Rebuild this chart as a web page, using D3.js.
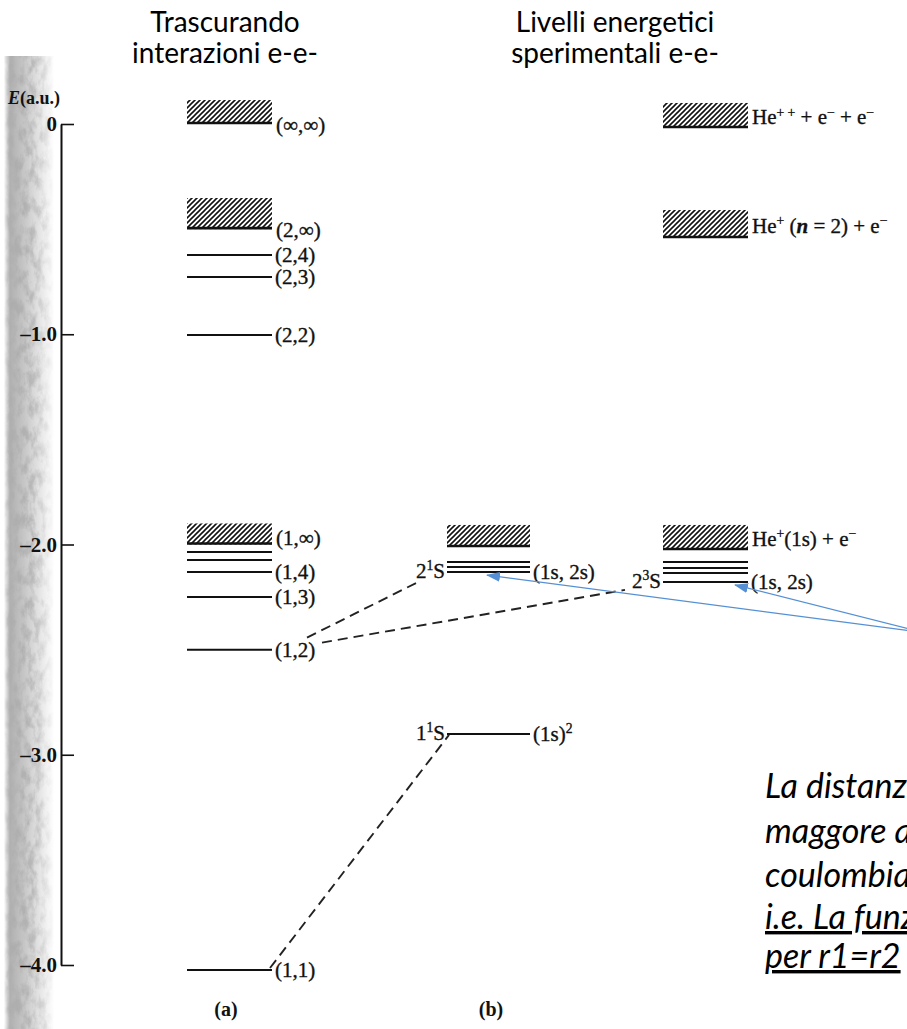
<!DOCTYPE html>
<html>
<head>
<meta charset="utf-8">
<script src="https://cdn.jsdelivr.net/npm/d3@7"></script>
<style>
  html, body { margin: 0; padding: 0; background: #fff; }
  svg { display: block; }
  .serif { font-family: "Liberation Serif", "DejaVu Serif", serif; fill: #111; }
  .lab { stroke: #111; stroke-width: 0.35; }
  .title { font-family: Lato, "Open Sans", sans-serif; fill: #000; }
</style>
</head>
<body>
<svg id="plot1" width="907" height="1029"></svg>
<script>
// energies (a.u.)
var axisTicks = [0, -1, -2, -3, -4];

// column (a): independent electrons
var bandsA = [
  {lo: 0, hi: 0.114, label: "(∞,∞)"},
  {lo: -0.5, hi: -0.352, label: "(2,∞)"},
  {lo: -2.0, hi: -1.9, label: "(1,∞)"}
];
var levelsA = [
  {E: -0.623, label: "(2,4)"},
  {E: -0.728, label: "(2,3)"},
  {E: -1.004, label: "(2,2)"},
  {E: -2.036, label: ""},
  {E: -2.074, label: ""},
  {E: -2.131, label: "(1,4)"},
  {E: -2.25, label: "(1,3)"},
  {E: -2.5, label: "(1,2)"},
  {E: -4.024, label: "(1,1)"}
];

// column (b): singlets
var bandsB = [{lo: -2.012, hi: -1.907, label: ""}];
var levelsB = [
  {E: -2.083, label: "", left: ""},
  {E: -2.107, label: "", left: ""},
  {E: -2.131, label: "(1s, 2s)", left: "2^{1}S"},
  {E: -2.901, label: "(1s)^{2}", left: "1^{1}S"}
];

// column (c): triplets
var bandsC = [
  {lo: -0.019, hi: 0.1, label: "He^{+ +} + e^{−}  + e^{−}"},
  {lo: -0.542, hi: -0.409, label: "He^{+} (*n* = 2) + e^{−}"},
  {lo: -2.026, hi: -1.907, label: "He^{+}(1s) + e^{−}"}
];
var levelsC = [
  {E: -2.083, label: "", left: ""},
  {E: -2.112, label: "", left: ""},
  {E: -2.136, label: "", left: ""},
  {E: -2.178, label: "(1s, 2s)", left: "2^{3}S"}
];

// dashed correlations between columns
var transitions = [
  {from: "A", Efrom: -2.5, to: "B", Eto: -2.131},
  {from: "A", Efrom: -2.5, to: "C", Eto: -2.178},
  {from: "A", Efrom: -4.024, to: "B", Eto: -2.901}
];

// blue annotation arrows pointing at the (1s,2s) levels
var arrows = [
  {col: "B", E: -2.131},
  {col: "C", E: -2.178}
];

var titles = [
  {lines: ["Trascurando", "interazioni  e-e-"], col: "A"},
  {lines: ["Livelli  energetici", "sperimentali  e-e-"], col: "BC"}
];
var noteLines = ["La distanza tra i livelli è", "maggore a causa della", "coulombiana fra gli", "i.e. La funzione d'onda", "per r1=r2"];
var panelLabels = ["(a)", "(b)"];

var svg = d3.select("#plot1");

var y = d3.scaleLinear().domain([0, -4]).range([124, 965]);

// horizontal extents of the three columns of levels
var cols = {
  A: {x0: 187, x1: 272},
  B: {x0: 447, x1: 530},
  C: {x0: 663, x1: 748}
};

var defs = svg.append("defs");

// hatch for the continua
var pat = defs.append("pattern")
    .attr("id", "hatch")
    .attr("patternUnits", "userSpaceOnUse")
    .attr("width", 5).attr("height", 5);
pat.append("path")
    .attr("d", "M-1,1 l2,-2 M0,5 l5,-5 M4,6 l2,-2")
    .attr("stroke", "#111").attr("stroke-width", 1.6);

// grey scanned strip on the left edge
var grad = defs.append("linearGradient").attr("id", "strip").attr("x1", 0).attr("x2", 1);
grad.append("stop").attr("offset", "0%").attr("stop-color", "#fff");
grad.append("stop").attr("offset", "12%").attr("stop-color", "#b0b0b0");
grad.append("stop").attr("offset", "40%").attr("stop-color", "#c6c6c6");
grad.append("stop").attr("offset", "75%").attr("stop-color", "#e8e8e8");
grad.append("stop").attr("offset", "100%").attr("stop-color", "#fff");

var mgrad = defs.append("linearGradient").attr("id", "stripMask").attr("x1", 0).attr("x2", 1);
mgrad.append("stop").attr("offset", "0%").attr("stop-color", "#000");
mgrad.append("stop").attr("offset", "15%").attr("stop-color", "#fff");
mgrad.append("stop").attr("offset", "55%").attr("stop-color", "#bbb");
mgrad.append("stop").attr("offset", "100%").attr("stop-color", "#000");
defs.append("mask").attr("id", "fade")
  .append("rect").attr("x", 4).attr("y", 56).attr("width", 50).attr("height", 973).attr("fill", "url(#stripMask)");

var grain = defs.append("filter").attr("id", "grain")
    .attr("filterUnits", "userSpaceOnUse")
    .attr("x", 4).attr("y", 56).attr("width", 50).attr("height", 973);
grain.append("feTurbulence").attr("type", "fractalNoise").attr("baseFrequency", "0.14 0.07").attr("numOctaves", 4).attr("seed", 11).attr("result", "noise");
grain.append("feColorMatrix").attr("in", "noise").attr("type", "matrix")
    .attr("values", "0 0 0 0 0.42  0 0 0 0 0.42  0 0 0 0 0.42  2.8 0 0 0 -1.1");

var marker = defs.append("marker")
    .attr("id", "arrowHead")
    .attr("markerUnits", "userSpaceOnUse")
    .attr("markerWidth", 14).attr("markerHeight", 10)
    .attr("refX", 13).attr("refY", 5)
    .attr("orient", "auto");
marker.append("path").attr("d", "M0,0 L14,5 L0,10 z").attr("fill", "#5590d4");

svg.append("rect").attr("x", 4).attr("y", 56).attr("width", 50).attr("height", 973).attr("fill", "url(#strip)");
svg.append("g").attr("mask", "url(#fade)")
  .append("rect").attr("x", 4).attr("y", 56).attr("width", 50).attr("height", 973)
    .attr("fill", "#888").attr("filter", "url(#grain)");

// helper: "2^{1}S" -> superscript, "*n*" -> italic
function richText(sel, str, size) {
  var parts = str.split(/(\^\{[^}]*\}|\*[^*]*\*)/).filter(function(p){ return p.length; });
  var up = false;
  parts.forEach(function(p) {
    if (p[0] == "^") {
      sel.append("tspan").attr("font-size", size * 0.65).attr("dy", -size * 0.38).text(p.slice(2, -1));
      up = true;
    } else {
      var t = sel.append("tspan").attr("dy", up ? size * 0.38 : 0);
      up = false;
      if (p[0] == "*") t.attr("font-style", "italic").attr("font-weight", "bold").text(p.slice(1, -1));
      else t.text(p);
    }
  });
}

// energy axis
var axis = d3.axisLeft(y)
    .tickValues(axisTicks)
    .tickSizeInner(-13)
    .tickSizeOuter(0)
    .tickPadding(4)
    .tickFormat(function(d){ return d == 0 ? "0" : "\u2013" + Math.abs(d).toFixed(1); });

var gAxis = svg.append("g").attr("transform", "translate(61,0)").call(axis);
gAxis.select(".domain").attr("stroke", "#111").attr("stroke-width", 2);
gAxis.selectAll(".tick line").attr("stroke", "#111").attr("stroke-width", 1.6);
gAxis.selectAll(".tick text")
    .attr("class", "serif")
    .attr("font-size", 21).attr("font-weight", "bold")
    .attr("fill", "#111");

var eLab = svg.append("text").attr("class", "serif").attr("x", 8).attr("y", 104)
    .attr("font-size", 18).attr("font-weight", "bold");
eLab.append("tspan").attr("font-style", "italic").text("E");
eLab.append("tspan").text("(a.u.)");

var fs = 21;

// continua
function drawBands(list, c, key) {
  var g = svg.append("g");
  g.selectAll("rect.band").data(list).enter().append("rect")
      .attr("class", "band")
      .attr("x", c.x0).attr("width", c.x1 - c.x0)
      .attr("y", function(d){ return y(d.hi); })
      .attr("height", function(d){ return y(d.lo) - y(d.hi); })
      .attr("fill", "url(#hatch)");
  g.selectAll("line.edge").data(list).enter().append("line")
      .attr("class", "edge")
      .attr("x1", c.x0).attr("x2", c.x1)
      .attr("y1", function(d){ return y(d.lo) - 1; })
      .attr("y2", function(d){ return y(d.lo) - 1; })
      .attr("stroke", "#111").attr("stroke-width", 2.6);
  g.selectAll("text").data(list.filter(function(d){ return d.label; })).enter().append("text")
      .attr("class", "serif lab")
      .attr("font-size", fs)
      .attr("x", c.x1 + 4)
      .attr("y", function(d){
        if (key == "C") return (y(d.lo) + y(d.hi)) / 2 + 9;
        return y(d.lo) + (d.lo < -1 ? 0 : 8);
      })
      .each(function(d){ richText(d3.select(this), d.label, fs); });
}

function drawLevels(list, c) {
  var g = svg.append("g");
  g.selectAll("line").data(list).enter().append("line")
      .attr("x1", c.x0).attr("x2", c.x1)
      .attr("y1", function(d){ return y(d.E); })
      .attr("y2", function(d){ return y(d.E); })
      .attr("stroke", "#111").attr("stroke-width", 2);
  g.selectAll("text.rl").data(list.filter(function(d){ return d.label; })).enter().append("text")
      .attr("class", "serif lab rl")
      .attr("font-size", fs)
      .attr("x", c.x1 + 3)
      .attr("y", function(d){ return y(d.E) + 7; })
      .each(function(d){ richText(d3.select(this), d.label, fs); });
  g.selectAll("text.ll").data(list.filter(function(d){ return d.left; })).enter().append("text")
      .attr("class", "serif lab ll")
      .attr("font-size", fs)
      .attr("text-anchor", "end")
      .attr("x", c.x0 - 2)
      .attr("y", function(d){ return y(d.E) + 6; })
      .each(function(d){ richText(d3.select(this), d.left, fs); });
}

drawBands(bandsA, cols.A, "A");
drawLevels(levelsA, cols.A);
drawBands(bandsB, cols.B, "B");
drawLevels(levelsB, cols.B);
drawBands(bandsC, cols.C, "C");
drawLevels(levelsC, cols.C);

// where each dashed line leaves / arrives, relative to its level
var dashOffsets = [
  {sx: 35, sy: -12, ex: -31, ey: 11},
  {sx: 50, sy: -7, ex: -38, ey: 8},
  {sx: -2, sy: -2, ex: 2, ey: 1}
];
svg.append("g").selectAll("line").data(transitions).enter().append("line")
    .attr("x1", function(d, i){ return cols[d.from].x1 + dashOffsets[i].sx; })
    .attr("y1", function(d, i){ return y(d.Efrom) + dashOffsets[i].sy; })
    .attr("x2", function(d, i){ return cols[d.to].x0 + dashOffsets[i].ex; })
    .attr("y2", function(d, i){ return y(d.Eto) + dashOffsets[i].ey; })
    .attr("stroke", "#222").attr("stroke-width", 1.9)
    .attr("stroke-dasharray", "10,6");

// blue arrows from the note on the right
var arrowTips = {B: 40, C: 72};
svg.append("g").selectAll("line").data(arrows).enter().append("line")
    .attr("x1", 925).attr("y1", y(-2.42))
    .attr("x2", function(d){ return cols[d.col].x0 + arrowTips[d.col]; })
    .attr("y2", function(d){ return y(d.E) + 3; })
    .attr("stroke", "#5590d4").attr("stroke-width", 1.2)
    .attr("marker-end", "url(#arrowHead)");

// titles
var titleX = {A: 225, BC: 615};
titles.forEach(function(t) {
  var tx = svg.append("text").attr("class", "title")
      .attr("font-size", 28)
      .attr("text-anchor", "middle")
      .attr("x", titleX[t.col]).attr("y", 32);
  t.lines.forEach(function(l, i) {
    tx.append("tspan").attr("x", titleX[t.col]).attr("dy", i == 0 ? 0 : 31).text(l);
  });
});

// italic note, cut by the right edge as in the slide
var noteY = [798, 843, 887, 929, 968];
svg.append("g").selectAll("text").data(noteLines).enter().append("text")
    .attr("class", "title")
    .attr("font-size", 34)
    .attr("font-style", "italic")
    .attr("x", 765)
    .attr("y", function(d, i){ return noteY[i]; })
    .attr("text-decoration", function(d, i){ return i >= 3 ? "underline" : null; })
    .text(function(d){ return d; });

// panel letters
var panelX = [226, 491];
svg.append("g").selectAll("text").data(panelLabels).enter().append("text")
    .attr("class", "serif")
    .attr("font-size", 20).attr("font-weight", "bold")
    .attr("text-anchor", "middle")
    .attr("x", function(d, i){ return panelX[i]; })
    .attr("y", 1016)
    .text(function(d){ return d; });
</script>
</body>
</html>
